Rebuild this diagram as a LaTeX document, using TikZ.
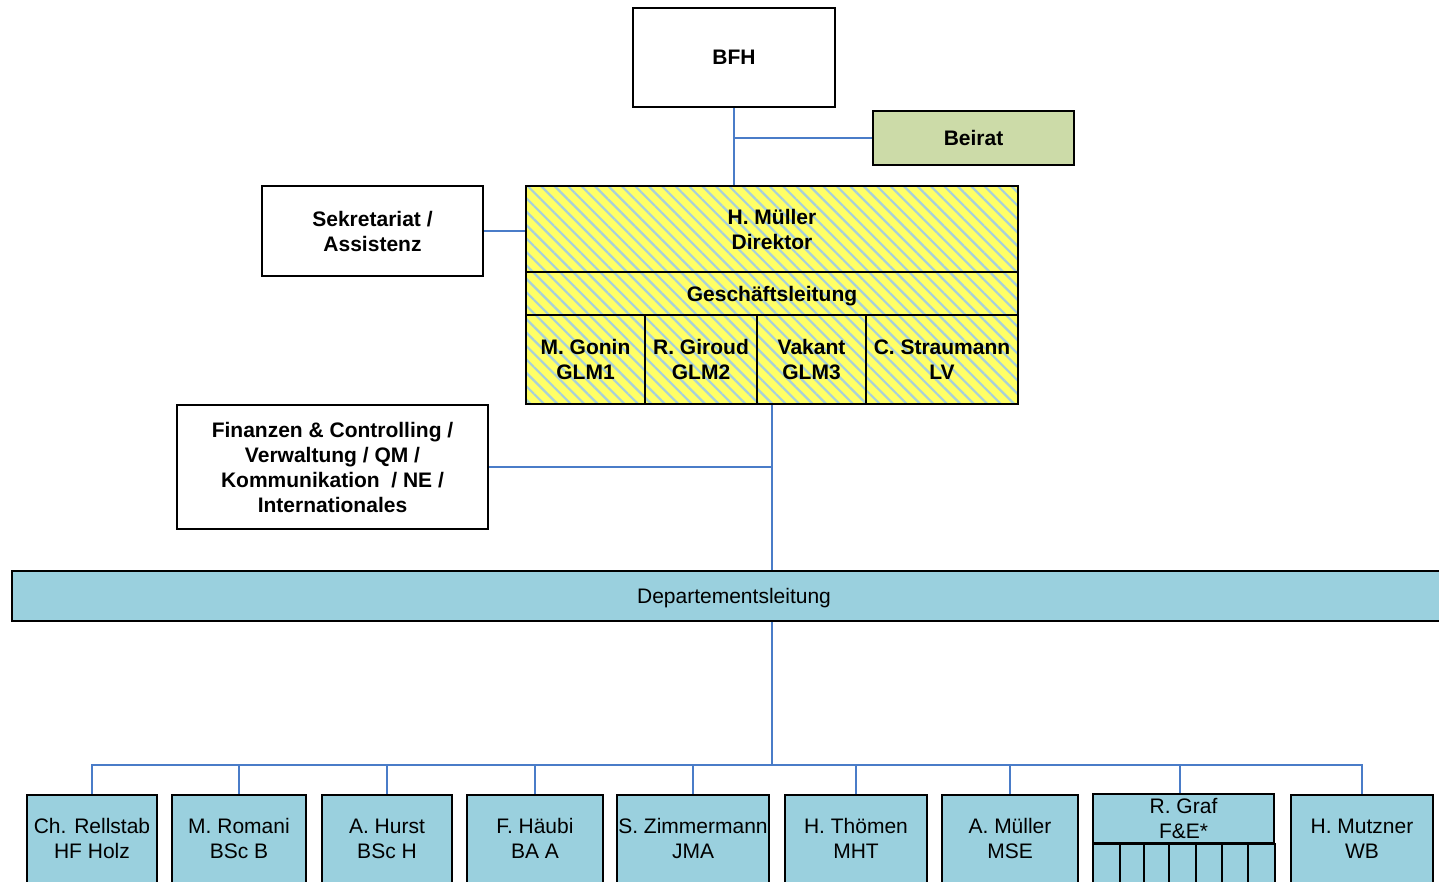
\documentclass[tikz,border=0pt]{standalone}
\usepackage{fontspec}
\setmainfont{Liberation Sans}
\usetikzlibrary{patterns.meta,backgrounds}
\definecolor{conblue}{HTML}{4A7CC8}
\definecolor{lblue}{HTML}{9AD0DE}
\definecolor{beiratgreen}{HTML}{CCDBA8}
\definecolor{hyellow}{HTML}{FFFF66}
\definecolor{hstripe}{HTML}{A8D0D8}
\begin{document}
\begin{tikzpicture}[x=1pt,y=-1pt,
  box/.style={draw=black, line width=2pt, inner sep=0pt, align=center,
    font=\fontsize{21}{25}\selectfont},
  bbox/.style={box, font=\fontsize{21}{25}\selectfont\bfseries},
  hatch/.style={bbox, preaction={fill=hyellow},
    pattern={Lines[angle=-45,distance=9.5pt,line width=2.2pt]}, pattern color=hstripe},
  dept/.style={box, fill=lblue},
  unit/.style={dept, minimum height=96pt, text height=40pt, text depth=10pt},
  conn/.style={draw=conblue, line width=2pt},
  ]
\useasboundingbox (0,0) rectangle (1439,881);

% top level
\node[bbox, minimum width=202pt, minimum height=99pt, text depth=0pt] (bfh) at (734,57.5) {BFH};
\node[bbox, fill=beiratgreen, minimum width=201pt, minimum height=54pt, text depth=0pt] (beirat) at (973.5,138) {Beirat};
\node[bbox, minimum width=221pt, minimum height=90pt] (sek) at (372.5,231) {Sekretariat /\\Assistenz};

% director block
\node[hatch, minimum width=492pt, minimum height=86pt] (dir) at (772,229) {H. Müller\\Direktor};
\node[hatch, minimum width=492pt, minimum height=43pt, text depth=0pt] (gl) at (772,293.5) {Geschäftsleitung};
\node[hatch, minimum width=119pt, minimum height=89pt] (g1) at (585.5,359.5) {M. Gonin\\GLM1};
\node[hatch, minimum width=112pt, minimum height=89pt] (g2) at (701,359.5) {R. Giroud\\GLM2};
\node[hatch, minimum width=109pt, minimum height=89pt] (g3) at (811.5,359.5) {Vakant\\GLM3};
\node[hatch, minimum width=152pt, minimum height=89pt] (g4) at (942,359.5) {C. Straumann\\LV};

\node[bbox, minimum width=311pt, minimum height=124pt] (fin) at (332.5,467)
  {Finanzen \& Controlling /\\Verwaltung / QM /\\Kommunikation~ / NE /\\Internationales};

\node[dept, minimum width=1444pt, minimum height=50pt, text depth=0pt] (dept) at (734,596) {Departementsleitung};

% units
\node[unit, minimum width=130pt, anchor=north] (b1) at (92,794) {Ch. Rellstab\\HF Holz};
\node[unit, minimum width=134pt, anchor=north] (b2) at (239,794) {M. Romani\\BSc B};
\node[unit, minimum width=130pt, anchor=north] (b3) at (387,794) {A. Hurst\\BSc H};
\node[unit, minimum width=136pt, anchor=north] (b4) at (535,794) {F. Häubi\\BA A};
\node[unit, minimum width=152pt, anchor=north] (b5) at (693,794) {S. Zimmermann\\JMA};
\node[unit, minimum width=142pt, anchor=north] (b6) at (856,794) {H. Thömen\\MHT};
\node[unit, minimum width=136pt, anchor=north] (b7) at (1010,794) {A. Müller\\MSE};
\node[dept, minimum width=181pt, minimum height=49pt] (b8) at (1183.5,818.5) {R. Graf\\F\&E*};
\node[unit, minimum width=142pt, anchor=north] (b9) at (1362,794) {H. Mutzner\\WB};

% sub-cells under R. Graf
\foreach \l/\r [count=\i] in {1092/1119,1119/1143,1143/1168,1168/1195,1195/1221,1221/1247,1247/1274}{
  \node[dept, minimum width={(\r-\l)*1pt}, minimum height=47pt, anchor=north west] (c\i) at (\l,843) {};
}

% connectors
\coordinate (bus) at (772,765);
\begin{scope}[on background layer]
\draw[conn] (bfh.south) -- (bfh.south |- dir.north);
\draw[conn] (beirat.west) -- (bfh.south |- beirat.west);
\draw[conn] (sek.east) -- (dir.west |- sek.east);
\draw[conn] (dir.center |- g3.south) -- (dir.center |- dept.north);
\draw[conn] (fin.east) -- (dir.center |- fin.east);
\draw[conn] (dir.center |- dept.south) -- (bus);
\draw[conn] (b1.north) -- (b1.north |- bus) -- (b9.north |- bus) -- (b9.north);
\foreach \b in {b2,b3,b4,b5,b6,b7}{
  \draw[conn] (\b.north) -- (\b.north |- bus);
}
\draw[conn] ([xshift=-3.5pt]b8.north) -- ([xshift=-3.5pt]b8.north |- bus);
\end{scope}
\end{tikzpicture}
\end{document}
